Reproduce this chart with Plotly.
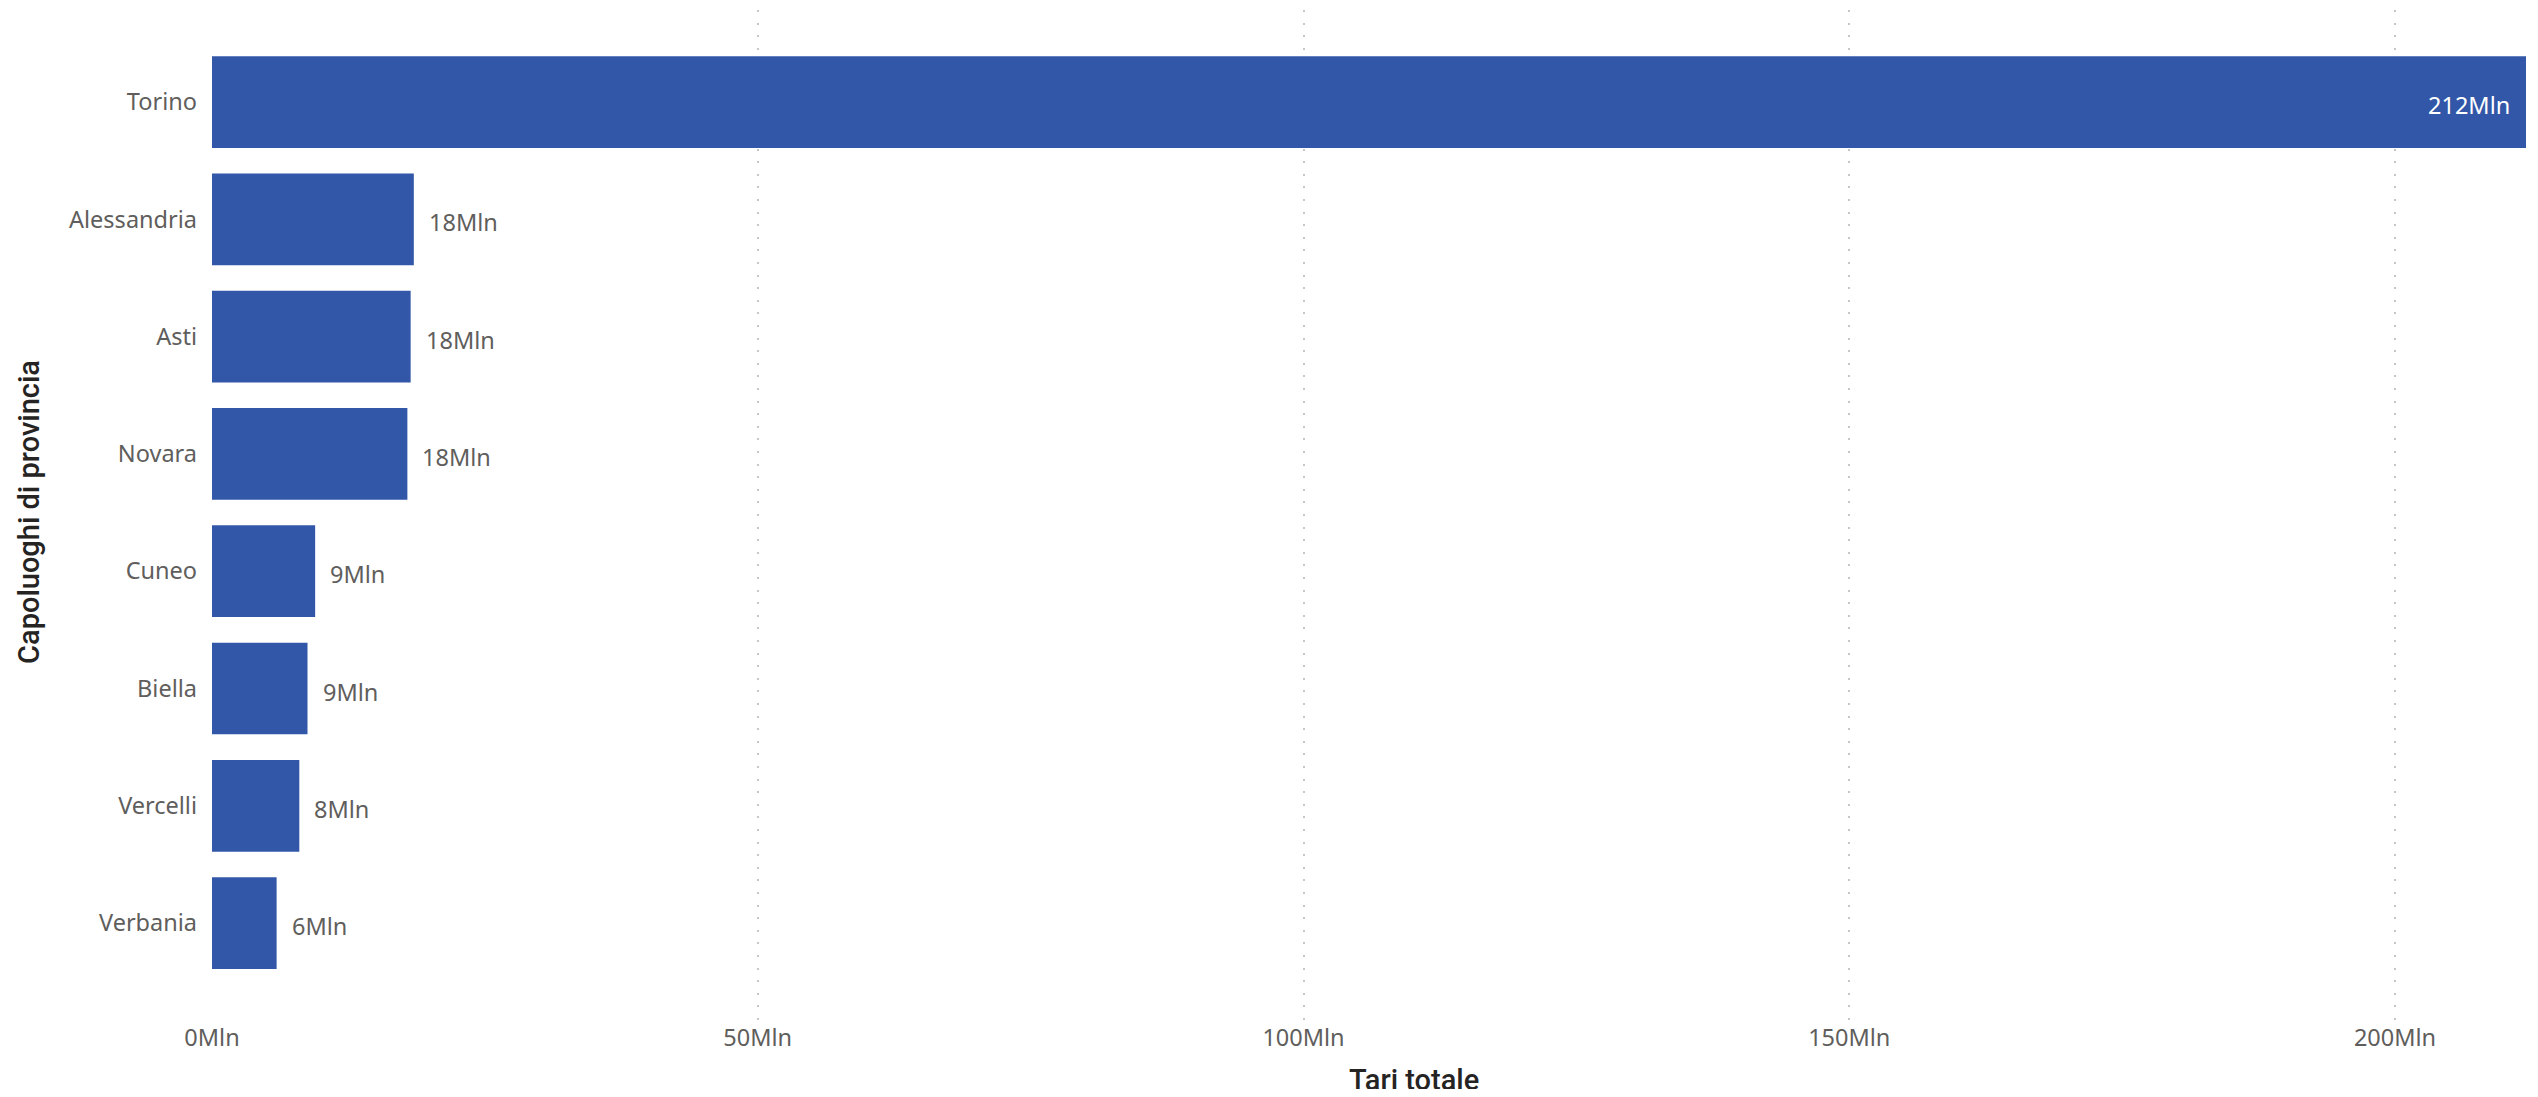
import plotly.graph_objects as go

categories = ["Torino", "Alessandria", "Asti", "Novara", "Cuneo", "Biella", "Vercelli", "Verbania"]
values_mln = [212.0, 18.49, 18.2, 17.9, 9.45, 8.75, 8.0, 5.92]
tick_vals = [0, 50, 100, 150, 200]
tick_text = ["0Mln", "50Mln", "100Mln", "150Mln", "200Mln"]

BAR = "#3257A8"
TICK = "#605E5C"
TITLE = "#252423"
TICKFONT = dict(family="Noto Sans, Open Sans, sans-serif", size=23.5, color=TICK)
TITLEFONT = dict(family="Roboto, DejaVu Sans, sans-serif", size=29, color=TITLE, weight=500)

fig = go.Figure()
fig.add_trace(go.Bar(
    x=values_mln, y=categories, orientation="h",
    marker=dict(color=BAR, line=dict(width=0)),
    hoverinfo="x+y",
))

xmax = max(values_mln)
for c, v in zip(categories, values_mln):
    inside = v > 0.5 * xmax
    fig.add_annotation(
        x=v, y=c, xref="x", yref="y",
        text=f"{v:.0f}Mln", showarrow=False,
        xanchor="right" if inside else "left",
        xshift=-14 if inside else 13, yshift=-3,
        font=dict(family=TICKFONT["family"], size=23.5, color="#FFFFFF" if inside else TICK),
    )

fig.add_annotation(
    text="Tari totale", xref="paper", yref="paper", x=0.5194, y=-0.058,
    xanchor="center", yanchor="middle", showarrow=False, font=TITLEFONT,
)
fig.add_annotation(
    text="Capoluoghi di provincia", xref="paper", yref="paper", x=-0.0791, y=0.5035,
    xanchor="center", yanchor="middle", textangle=-90, showarrow=False, font=TITLEFONT,
)

fig.update_layout(
    width=2522, height=1081,
    margin=dict(l=204, r=4, t=2, b=68, autoexpand=False),
    paper_bgcolor="white", plot_bgcolor="white",
    bargap=0.218, showlegend=False,
    xaxis=dict(
        range=[0, xmax], tickvals=tick_vals, ticktext=tick_text,
        showgrid=True, gridcolor="#C8C6C4", gridwidth=2, griddash="2px,10.6px",
        zeroline=False, showline=False, ticks="", tickfont=TICKFONT,
        ticklabelstandoff=0, fixedrange=True, automargin=False,
    ),
    yaxis=dict(
        type="category", categoryorder="array", categoryarray=categories,
        range=[7.835, -0.785], showgrid=False, zeroline=False, showline=False,
        ticks="", tickfont=TICKFONT, ticklabelstandoff=14, fixedrange=True,
        automargin=False,
    ),
)

fig.write_html("out.html")
